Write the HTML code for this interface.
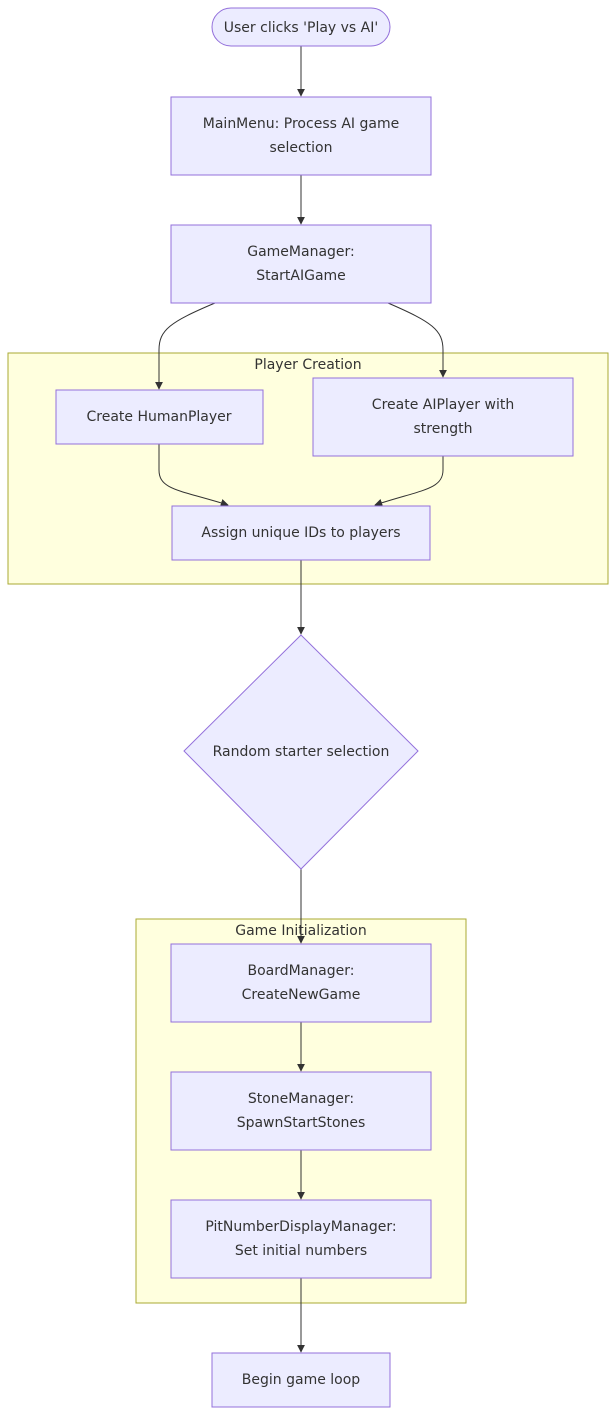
<!DOCTYPE html>
<html><head><meta charset="utf-8"><style>
html,body{margin:0;padding:0;background:#fff;}
svg{display:block;}
text{font-family:"DejaVu Sans","Liberation Sans",sans-serif;font-size:14px;fill:#333;text-anchor:middle;dominant-baseline:central;}
.n{fill:#ECECFF;stroke:#9370DB;stroke-width:1;}
.c{fill:#ffffde;stroke:#aaaa33;stroke-width:1;}
.e{fill:none;stroke:#333;stroke-width:1;}
</style></head><body>
<svg width="616" height="1415" viewBox="0 0 616 1415" xmlns="http://www.w3.org/2000/svg">
<defs><marker id="a" viewBox="0 0 10 10" refX="9" refY="5" markerWidth="8" markerHeight="8" orient="auto"><path d="M0,0L10,5L0,10z" fill="#333"/></marker></defs>
<rect class="c" x="8" y="353" width="600" height="231"/>
<text x="308" y="365">Player Creation</text>
<rect class="c" x="136" y="919" width="330" height="384"/>
<text x="301" y="931">Game Initialization</text>

<path class="e" d="M301,46V96" marker-end="url(#a)"/>
<path class="e" d="M301,175V224" marker-end="url(#a)"/>
<path class="e" d="M215,303C170,322 159,330 159,350V389" marker-end="url(#a)"/>
<path class="e" d="M388,303C432,322 443,330 443,350V377" marker-end="url(#a)"/>
<path class="e" d="M159,444V470C159,490 180,490 228,505" marker-end="url(#a)"/>
<path class="e" d="M443,456V470C443,490 420,490 375,505" marker-end="url(#a)"/>
<path class="e" d="M301,560V634" marker-end="url(#a)"/>
<path class="e" d="M301,869V943" marker-end="url(#a)"/>
<path class="e" d="M301,1022V1071" marker-end="url(#a)"/>
<path class="e" d="M301,1150V1199" marker-end="url(#a)"/>
<path class="e" d="M301,1278V1352" marker-end="url(#a)"/>

<rect class="n" x="212" y="8" width="178" height="38" rx="19"/>
<text x="301" y="28">User clicks 'Play vs AI'</text>
<rect class="n" x="171" y="97" width="260" height="78"/>
<text x="301" y="124">MainMenu: Process AI game</text><text x="301" y="148">selection</text>
<rect class="n" x="171" y="225" width="260" height="78"/>
<text x="301" y="252">GameManager:</text><text x="301" y="276">StartAIGame</text>
<rect class="n" x="56" y="390" width="207" height="54"/>
<text x="159" y="417">Create HumanPlayer</text>
<rect class="n" x="313" y="378" width="260" height="78"/>
<text x="443" y="405">Create AIPlayer with</text><text x="443" y="429">strength</text>
<rect class="n" x="172" y="506" width="258" height="54"/>
<text x="301" y="533">Assign unique IDs to players</text>
<polygon class="n" points="301,635 418,751 301,869 184,751"/>
<text x="301" y="752">Random starter selection</text>
<rect class="n" x="171" y="944" width="260" height="78"/>
<text x="301" y="971">BoardManager:</text><text x="301" y="995">CreateNewGame</text>
<rect class="n" x="171" y="1072" width="260" height="78"/>
<text x="301" y="1099">StoneManager:</text><text x="301" y="1123">SpawnStartStones</text>
<rect class="n" x="171" y="1200" width="260" height="78"/>
<text x="301" y="1227">PitNumberDisplayManager:</text><text x="301" y="1251">Set initial numbers</text>
<rect class="n" x="212" y="1353" width="178" height="54"/>
<text x="301" y="1380">Begin game loop</text>
</svg>
</body></html>
